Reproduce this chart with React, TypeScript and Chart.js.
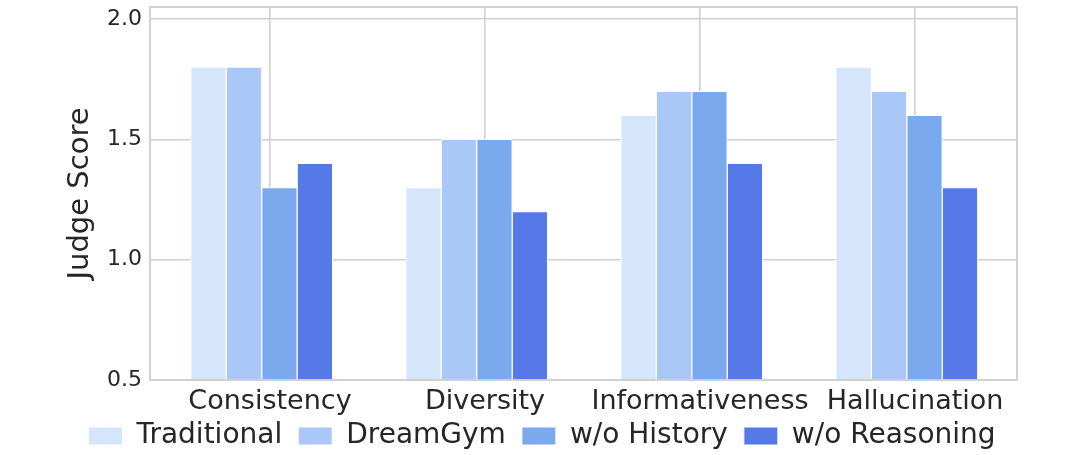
import React, { useEffect, useRef } from "react";
import { Chart, registerables } from "chart.js";

Chart.register(...registerables);

const categories = ["Consistency", "Diversity", "Informativeness", "Hallucination"];
const seriesNames = ["Traditional", "DreamGym", "w/o History", "w/o Reasoning"];
const traditional = [1.8, 1.3, 1.6, 1.8];
const dreamGym = [1.8, 1.5, 1.7, 1.7];
const woHistory = [1.3, 1.5, 1.7, 1.6];
const woReasoning = [1.4, 1.2, 1.4, 1.3];
const yTicks = [0.5, 1.0, 1.5, 2.0];

const seriesValues = [traditional, dreamGym, woHistory, woReasoning];
const seriesColors = ["#d5e5fb", "#a9c8f8", "#7aaaed", "#5679e8"];
const barOffsets = [-0.286, -0.121, 0.044, 0.209];

const TEXT = "#262626";
const GRID = "#d0d0d0";
const FONT = "'DejaVu Sans', sans-serif";

const frame = {
  id: "frame",
  afterLayout(chart: any) {
    const lg = chart.legend;
    if (lg) {
      lg.top = 406;
      lg.bottom = 455;
      lg.height = 49;
      lg.left = 4;
      lg.right = 1080;
      lg.width = 1076;
    }
  },
  afterDatasetsDraw(chart: any) {
    const { ctx, chartArea } = chart;
    ctx.save();
    ctx.strokeStyle = GRID;
    ctx.lineWidth = 2;
    ctx.strokeRect(chartArea.left, chartArea.top, chartArea.right - chartArea.left, chartArea.bottom - chartArea.top);
    ctx.restore();
  },
};

export default function App() {
  const ref = useRef<HTMLCanvasElement>(null);
  useEffect(() => {
    if (!ref.current) return;
    const chart = new Chart(ref.current, {
      type: "bar",
      data: {
        datasets: seriesValues.map((vals, k) => ({
          label: seriesNames[k],
          data: vals.map((y, i) => ({ x: i + barOffsets[k], y })),
          backgroundColor: seriesColors[k],
          borderColor: "#ffffff",
          borderWidth: 1,
          borderSkipped: "bottom",
          barThickness: 35.5,
          grouped: false,
        })),
      },
      options: {
        responsive: false,
        animation: false,
        devicePixelRatio: 1,
        layout: { padding: { left: 0, right: 63, top: 7, bottom: 0 } },
        plugins: {
          tooltip: { enabled: false },
          legend: {
            position: "bottom",
            maxHeight: 30,
            labels: {
              boxWidth: 34,
              boxHeight: 18,
              padding: 16,
              color: TEXT,
              font: { family: FONT, size: 28 },
            },
          },
        },
        scales: {
          x: {
            type: "linear",
            min: -0.558,
            max: 3.474,
            offset: false,
            clip: false,
            border: { display: false },
            grid: { color: GRID, lineWidth: 1.6, drawTicks: false, offset: false },
            afterBuildTicks: (scale: any) => {
              scale.ticks = categories.map((_, i) => ({ value: i }));
            },
            afterFit: (scale: any) => {
              scale.height = 45;
              scale.paddingLeft = 0;
              scale.paddingRight = 0;
            },
            ticks: {
              autoSkip: false,
              maxRotation: 0,
              padding: 6,
              color: TEXT,
              font: { family: FONT, size: 27 },
              callback: (v: any) => categories[Math.round(Number(v))] ?? "",
            },
          },
          y: {
            min: 0.5,
            max: 2.05,
            border: { display: false },
            grid: { color: GRID, lineWidth: 1.6, drawTicks: false },
            afterBuildTicks: (scale: any) => {
              scale.ticks = yTicks.map((v) => ({ value: v }));
            },
            afterFit: (scale: any) => {
              scale.width = 150;
              scale.paddingTop = 0;
              scale.paddingBottom = 0;
            },
            ticks: {
              padding: 8,
              color: TEXT,
              font: { family: FONT, size: 22 },
              callback: (v: any) => Number(v).toFixed(1),
            },
            title: {
              display: true,
              text: "Judge Score",
              color: TEXT,
              font: { family: FONT, size: 29 },
              padding: { top: 63, bottom: 0 },
            },
          },
        },
      },
      plugins: [frame],
    });
    return () => chart.destroy();
  }, []);
  return (
    <canvas
      ref={ref}
      width={1080}
      height={455}
      style={{ position: "absolute", left: 0, top: 0, display: "block" }}
    />
  );
}
